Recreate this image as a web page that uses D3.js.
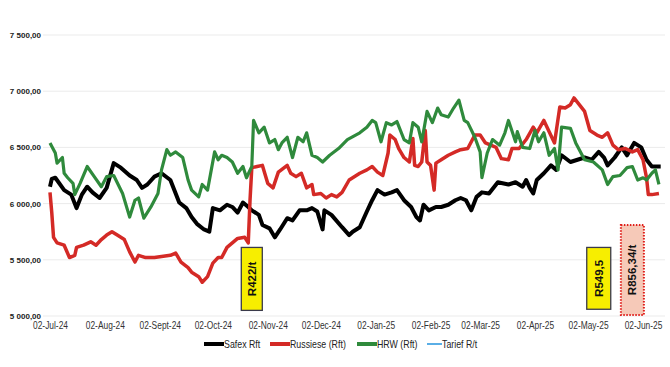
<!DOCTYPE html>
<html>
<head>
<meta charset="utf-8">
<script src="https://cdn.jsdelivr.net/npm/d3@7"></script>
<style>
  body { margin: 0; background: #fff; }
  text { font-family: "Liberation Sans Narrow", "Arial Narrow", "Liberation Sans", sans-serif; }
</style>
</head>
<body>
<div id="chart"></div>
<script>
// data
const safex = [
  ["2024-07-02",6150],["2024-07-03",6220],["2024-07-05",6230],["2024-07-10",6120],["2024-07-14",6080],
  ["2024-07-17",5960],["2024-07-20",6080],["2024-07-23",6150],["2024-07-26",6100],["2024-07-30",6050],
  ["2024-08-03",6140],["2024-08-07",6360],["2024-08-11",6320],["2024-08-16",6250],["2024-08-20",6210],
  ["2024-08-23",6140],["2024-08-26",6170],["2024-08-30",6240],["2024-09-03",6270],["2024-09-08",6210],
  ["2024-09-13",6010],["2024-09-17",5960],["2024-09-20",5880],["2024-09-23",5820],["2024-09-27",5770],
  ["2024-09-30",5750],["2024-10-02",5960],["2024-10-06",5940],["2024-10-10",5990],["2024-10-13",5970],
  ["2024-10-16",5920],["2024-10-19",6010],["2024-10-22",5970],["2024-10-24",5940],["2024-10-28",5900],
  ["2024-10-30",5810],["2024-11-03",5780],["2024-11-06",5700],["2024-11-09",5770],["2024-11-13",5870],
  ["2024-11-16",5850],["2024-11-20",5940],["2024-11-24",5940],["2024-11-27",5960],["2024-11-30",5930],
  ["2024-12-03",5770],["2024-12-04",5940],["2024-12-08",5900],["2024-12-14",5790],["2024-12-18",5720],
  ["2024-12-20",5750],["2024-12-24",5790],["2024-12-28",5930],["2024-12-31",6030],["2025-01-03",6120],
  ["2025-01-07",6080],["2025-01-11",6100],["2025-01-14",6120],["2025-01-18",6030],["2025-01-22",5970],
  ["2025-01-25",5880],["2025-01-27",5850],["2025-01-29",5990],["2025-02-01",5940],["2025-02-05",5970],
  ["2025-02-08",5970],["2025-02-12",5990],["2025-02-16",6030],["2025-02-19",6050],["2025-02-22",6030],
  ["2025-02-25",5940],["2025-02-28",6060],["2025-03-03",6100],["2025-03-07",6090],["2025-03-12",6190],
  ["2025-03-18",6170],["2025-03-22",6190],["2025-03-26",6150],["2025-03-28",6210],["2025-03-30",6140],
  ["2025-04-01",6090],["2025-04-03",6210],["2025-04-07",6270],["2025-04-11",6340],["2025-04-14",6300],
  ["2025-04-17",6430],["2025-04-22",6370],["2025-04-26",6390],["2025-04-30",6410],["2025-05-04",6390],
  ["2025-05-08",6460],["2025-05-11",6410],["2025-05-13",6340],["2025-05-17",6410],["2025-05-21",6500],
  ["2025-05-24",6430],["2025-05-28",6540],["2025-06-01",6500],["2025-06-04",6390],["2025-06-07",6330],
  ["2025-06-12",6330]
];

const russiese = [
  ["2024-07-02",6100],["2024-07-03",5920],["2024-07-04",5700],["2024-07-06",5650],["2024-07-10",5630],
  ["2024-07-13",5520],["2024-07-16",5540],["2024-07-17",5610],["2024-07-21",5630],["2024-07-25",5660],
  ["2024-07-28",5630],["2024-07-31",5680],["2024-08-03",5720],["2024-08-06",5750],["2024-08-09",5720],
  ["2024-08-13",5680],["2024-08-16",5570],["2024-08-19",5480],["2024-08-21",5540],["2024-08-25",5520],
  ["2024-08-30",5520],["2024-09-03",5530],["2024-09-08",5540],["2024-09-11",5560],["2024-09-14",5480],
  ["2024-09-18",5430],["2024-09-20",5390],["2024-09-24",5350],["2024-09-26",5300],["2024-09-29",5350],
  ["2024-10-02",5470],["2024-10-05",5520],["2024-10-07",5520],["2024-10-10",5610],["2024-10-13",5650],
  ["2024-10-16",5690],["2024-10-20",5700],["2024-10-22",5650],["2024-10-23",6030],["2024-10-24",6320],
  ["2024-10-27",6330],["2024-10-30",6340],["2024-11-02",6180],["2024-11-05",6140],["2024-11-08",6280],
  ["2024-11-13",6340],["2024-11-15",6270],["2024-11-18",6240],["2024-11-21",6270],["2024-11-24",6140],
  ["2024-11-27",6170],["2024-11-28",6080],["2024-12-02",6090],["2024-12-05",6050],["2024-12-08",6080],
  ["2024-12-11",6060],["2024-12-14",6100],["2024-12-18",6210],["2024-12-20",6230],["2024-12-24",6270],
  ["2024-12-28",6300],["2024-12-31",6330],["2025-01-03",6280],["2025-01-06",6250],["2025-01-09",6450],
  ["2025-01-10",6610],["2025-01-13",6570],["2025-01-15",6490],["2025-01-18",6410],["2025-01-21",6370],
  ["2025-01-23",6580],["2025-01-24",6340],["2025-01-26",6330],["2025-01-28",6370],["2025-01-30",6650],
  ["2025-01-31",6370],["2025-02-02",6340],["2025-02-04",6120],["2025-02-05",6360],["2025-02-08",6390],
  ["2025-02-12",6430],["2025-02-16",6460],["2025-02-19",6480],["2025-02-23",6490],["2025-02-27",6610],
  ["2025-03-02",6610],["2025-03-05",6540],["2025-03-08",6520],["2025-03-11",6500],["2025-03-14",6400],
  ["2025-03-18",6390],["2025-03-20",6490],["2025-03-24",6490],["2025-03-28",6570],["2025-04-01",6680],
  ["2025-04-03",6630],["2025-04-07",6740],["2025-04-10",6640],["2025-04-13",6540],["2025-04-16",6860],
  ["2025-04-19",6850],["2025-04-22",6880],["2025-04-24",6940],["2025-04-27",6880],["2025-04-30",6820],
  ["2025-05-03",6650],["2025-05-07",6610],["2025-05-10",6590],["2025-05-13",6630],["2025-05-16",6520],
  ["2025-05-19",6480],["2025-05-23",6490],["2025-05-27",6460],["2025-05-30",6480],["2025-06-02",6390],
  ["2025-06-04",6230],["2025-06-05",6080],["2025-06-07",6080],["2025-06-11",6090]
];

const hrw = [
  ["2024-07-02",6540],["2024-07-05",6450],["2024-07-06",6360],["2024-07-09",6410],["2024-07-10",6270],
  ["2024-07-12",6230],["2024-07-15",6180],["2024-07-16",6080],["2024-07-19",6180],["2024-07-23",6330],
  ["2024-07-27",6240],["2024-07-31",6150],["2024-08-03",6240],["2024-08-07",6250],["2024-08-12",6090],
  ["2024-08-16",5880],["2024-08-19",6030],["2024-08-21",6050],["2024-08-24",5870],["2024-08-28",5970],
  ["2024-09-01",6090],["2024-09-03",6300],["2024-09-06",6480],["2024-09-08",6430],["2024-09-11",6460],
  ["2024-09-15",6410],["2024-09-18",6210],["2024-09-20",6120],["2024-09-24",6060],["2024-09-26",6170],
  ["2024-09-29",6120],["2024-10-03",6460],["2024-10-05",6390],["2024-10-07",6430],["2024-10-10",6410],
  ["2024-10-13",6370],["2024-10-16",6270],["2024-10-19",6330],["2024-10-21",6230],["2024-10-24",6330],
  ["2024-10-25",6740],["2024-10-28",6630],["2024-10-31",6680],["2024-11-03",6540],["2024-11-06",6570],
  ["2024-11-08",6480],["2024-11-10",6540],["2024-11-13",6590],["2024-11-16",6410],["2024-11-19",6590],
  ["2024-11-22",6550],["2024-11-24",6630],["2024-11-27",6430],["2024-11-30",6410],["2024-12-03",6370],
  ["2024-12-07",6430],["2024-12-12",6490],["2024-12-17",6570],["2024-12-24",6630],["2024-12-28",6680],
  ["2024-12-31",6740],["2025-01-02",6720],["2025-01-05",6550],["2025-01-08",6720],["2025-01-11",6700],
  ["2025-01-14",6730],["2025-01-18",6570],["2025-01-21",6540],["2025-01-23",6720],["2025-01-26",6680],
  ["2025-01-28",6550],["2025-01-31",6820],["2025-02-03",6720],["2025-02-06",6850],["2025-02-08",6790],
  ["2025-02-12",6770],["2025-02-15",6850],["2025-02-18",6920],["2025-02-21",6740],["2025-02-23",6720],
  ["2025-02-27",6590],["2025-03-02",6460],["2025-03-03",6230],["2025-03-06",6450],["2025-03-09",6570],
  ["2025-03-13",6520],["2025-03-16",6630],["2025-03-18",6740],["2025-03-22",6550],["2025-03-23",6640],
  ["2025-03-26",6500],["2025-03-30",6490],["2025-04-02",6650],["2025-04-04",6550],["2025-04-07",6630],
  ["2025-04-10",6430],["2025-04-13",6490],["2025-04-15",6300],["2025-04-17",6680],["2025-04-22",6670],
  ["2025-04-25",6540],["2025-04-30",6390],["2025-05-05",6370],["2025-05-10",6300],["2025-05-13",6170],
  ["2025-05-16",6240],["2025-05-20",6250],["2025-05-24",6320],["2025-05-27",6330],["2025-05-30",6210],
  ["2025-06-02",6230],["2025-06-04",6210],["2025-06-07",6270],["2025-06-09",6300],["2025-06-11",6170]
];

const tarief = []; // only in legend, no line visible

const yTicks = [5000, 5500, 6000, 6500, 7000, 7500];
const yTickLabels = ["5 000,00", "5 500,00", "6 000,00", "6 500,00", "7 000,00", "7 500,00"];
const xTicks = ["2024-07-02","2024-08-02","2024-09-02","2024-10-02","2024-11-02","2024-12-02",
                "2025-01-02","2025-02-02","2025-03-02","2025-04-02","2025-05-02","2025-06-02"];
const xTickLabels = ["02-Jul-24","02-Aug-24","02-Sept-24","02-Oct-24","02-Nov-24","02-Dec-24",
                     "02-Jan-25","02-Feb-25","02-Mar-25","02-Apr-25","02-May-25","02-Jun-25"];

const seriesNames = ["Safex Rft", "Russiese (Rft)", "HRW (Rft)", "Tarief R/t"];
const seriesColors = ["#000000", "#d42a26", "#2f8a3c", "#5aaee6"];
const seriesData = [safex, russiese, hrw, tarief];

// annotation boxes: label, date, top value, bottom value
const notes = [
  { label: "R422/t", date: "2024-10-24", top: 5610, bottom: 5050 },
  { label: "R549,5", date: "2025-05-08", top: 5610, bottom: 5060 },
  { label: "R856,34/t", date: "2025-05-27", top: 5810, bottom: 5010 }
];

const parse = d3.timeParse("%Y-%m-%d");
const W = 670, H = 367;
const squeeze = 0.84; // no narrow font here, so squash text sideways

const svg = d3.select('#chart').append('svg').attr('width', W).attr('height', H);

const x = d3.scaleTime().domain([parse("2024-07-02"), parse("2025-06-02")]).range([50, 643]);
const y = d3.scaleLinear().domain([5000, 7500]).range([316, 35]);

// grid
svg.append('g').selectAll('line').data(yTicks).join('line')
  .attr('x1', 43).attr('x2', 665)
  .attr('y1', d => y(d)).attr('y2', d => y(d))
  .attr('stroke', '#ebebeb').attr('stroke-width', 1);

// y axis labels
const yAxis = svg.append('g').attr('transform', 'translate(41,0)')
  .call(d3.axisLeft(y).tickValues(yTicks).tickSize(0).tickPadding(0)
    .tickFormat((d, i) => yTickLabels[i]));
yAxis.select('.domain').remove();
yAxis.selectAll('text')
  .style('font-family', '"Liberation Sans", Arial, sans-serif')
  .style('font-weight', 'bold').style('font-size', '8px').attr('fill', '#222');

// x axis labels
const xAxis = svg.append('g').attr('transform', 'translate(0,322)')
  .call(d3.axisBottom(x).tickValues(xTicks.map(parse)).tickSize(0).tickPadding(0)
    .tickFormat((d, i) => xTickLabels[i]));
xAxis.select('.domain').remove();
xAxis.selectAll('text').style('font-size', '10px').attr('fill', '#333')
  .attr('transform', `scale(${squeeze},1)`);

// lines
const line = d3.line().x(d => x(parse(d[0]))).y(d => y(d[1]));
const widths = [4, 3.5, 3.2, 2];
seriesData.forEach((s, i) => {
  if (s.length === 0) return;
  svg.append('path').datum(s)
    .attr('d', line)
    .attr('fill', 'none')
    .attr('stroke', seriesColors[i])
    .attr('stroke-width', widths[i])
    .attr('stroke-linejoin', 'round');
});

// annotation boxes
const boxW = [21, 24, 23];
notes.forEach((n, i) => {
  const cx = x(parse(n.date));
  const y0 = y(n.top), y1 = y(n.bottom);
  const pink = i === 2;
  svg.append('rect')
    .attr('x', cx - boxW[i] / 2).attr('y', y0)
    .attr('width', boxW[i]).attr('height', y1 - y0)
    .attr('fill', pink ? '#f6c9b8' : '#f7ee00')
    .attr('stroke', pink ? '#e0201c' : '#3a3a4a')
    .attr('stroke-width', pink ? 2 : 1.3)
    .attr('stroke-dasharray', pink ? '1.5,1.5' : null);
  svg.append('text')
    .attr('transform', `translate(${cx + 4},${(y0 + y1) / 2}) rotate(-90)`)
    .attr('text-anchor', 'middle')
    .style('font-family', '"Liberation Sans", Arial, sans-serif')
    .style('font-weight', 'bold').style('font-size', '11.5px')
    .attr('fill', '#111')
    .text(n.label);
});

// legend
const legendX = [204, 270, 357, 427];
const legend = svg.append('g').attr('transform', 'translate(0,344)');
seriesNames.forEach((name, i) => {
  const len = i === 3 ? 15 : 20;
  legend.append('line')
    .attr('x1', legendX[i]).attr('x2', legendX[i] + len)
    .attr('y1', 0).attr('y2', 0)
    .attr('stroke', seriesColors[i]).attr('stroke-width', i === 3 ? 2 : 4);
  legend.append('g').attr('transform', `translate(${legendX[i] + len},3.5)`)
    .append('text')
    .attr('transform', `scale(${squeeze},1)`)
    .style('font-size', '10.5px').attr('fill', '#222')
    .text(name);
});
</script>
</body>
</html>
